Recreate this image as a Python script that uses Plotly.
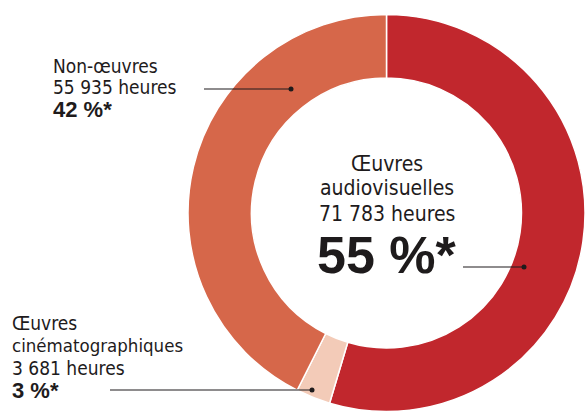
import plotly.graph_objects as go

W, H = 585, 412

categories = ["Œuvres audiovisuelles", "Œuvres cinématographiques", "Non-œuvres"]
heures = [71783, 3681, 55935]
percent_labels = ["55 %*", "3 %*", "42 %*"]
colors = ["#C1272D", "#F3CBB8", "#D6674A"]

FONT = "DejaVu Sans Condensed, Liberation Sans, sans-serif"
BOLDFONT = "Liberation Sans, Arial, sans-serif"
TXT = "#1E1B1C"

def fmt(n):
    return f"{n:,}".replace(",", " ")

fig = go.Figure()
fig.add_trace(go.Pie(
    labels=categories, values=heures, sort=False, direction="clockwise", rotation=0,
    hole=0.68, textinfo="none", hoverinfo="label+value+percent",
    marker=dict(colors=colors, line=dict(color="white", width=1.5)),
    domain=dict(x=[(387 - 199) / W, min(1.0, (387 + 199) / W)], y=[0, 398 / H]),
    showlegend=False,
))

def px_y(y):
    return 1 - y / H

ann = []
def line(x, baseline, text, size, bold=False, anchor="left", family=FONT):
    t = f"<b>{text}</b>" if bold else text
    ann.append(dict(x=x / W, y=px_y(baseline - 0.33 * size), xref="paper", yref="paper",
                    text=t, showarrow=False, xanchor=anchor, yanchor="middle",
                    borderpad=0,
                    font=dict(family=family, size=size, color=TXT)))

# Non-œuvres
line(52, 72, "Non-œuvres", 19)
line(52, 93, f"{fmt(heures[2])} heures", 19)
line(52, 117, percent_labels[2], 22, bold=True, family=BOLDFONT)
# Œuvres cinématographiques
line(11, 329, "Œuvres", 19)
line(11, 352, "cinématographiques", 18.5)
line(11, 374, f"{fmt(heures[1])} heures", 19)
line(11, 398, percent_labels[1], 22, bold=True, family=BOLDFONT)
# Centre
line(387, 171, "Œuvres", 21, anchor="center")
line(387, 195, "audiovisuelles", 21, anchor="center")
line(387, 221, f"{fmt(heures[0])} heures", 21, anchor="center")
line(387, 272, percent_labels[0], 52, bold=True, anchor="center", family=BOLDFONT)

shapes = []
def leader(x0, x1, y):
    shapes.append(dict(type="line", xref="paper", yref="paper", x0=x0 / W, x1=x1 / W,
                       y0=px_y(y), y1=px_y(y), line=dict(color=TXT, width=1.2)))
    r = 2.5
    shapes.append(dict(type="circle", xref="paper", yref="paper",
                       x0=(x1 - r) / W, x1=(x1 + r) / W, y0=px_y(y + r), y1=px_y(y - r),
                       fillcolor=TXT, line=dict(width=0)))

leader(204, 291, 89)
leader(463, 524, 267)
leader(110, 312, 390)

fig.update_layout(width=W, height=H, margin=dict(l=0, r=0, t=0, b=0),
                  paper_bgcolor="white", plot_bgcolor="white",
                  annotations=ann, shapes=shapes)
fig.write_html("out.html", config={"displayModeBar": False},
               post_script="document.body.style.margin='0';document.body.style.overflow='hidden';")
